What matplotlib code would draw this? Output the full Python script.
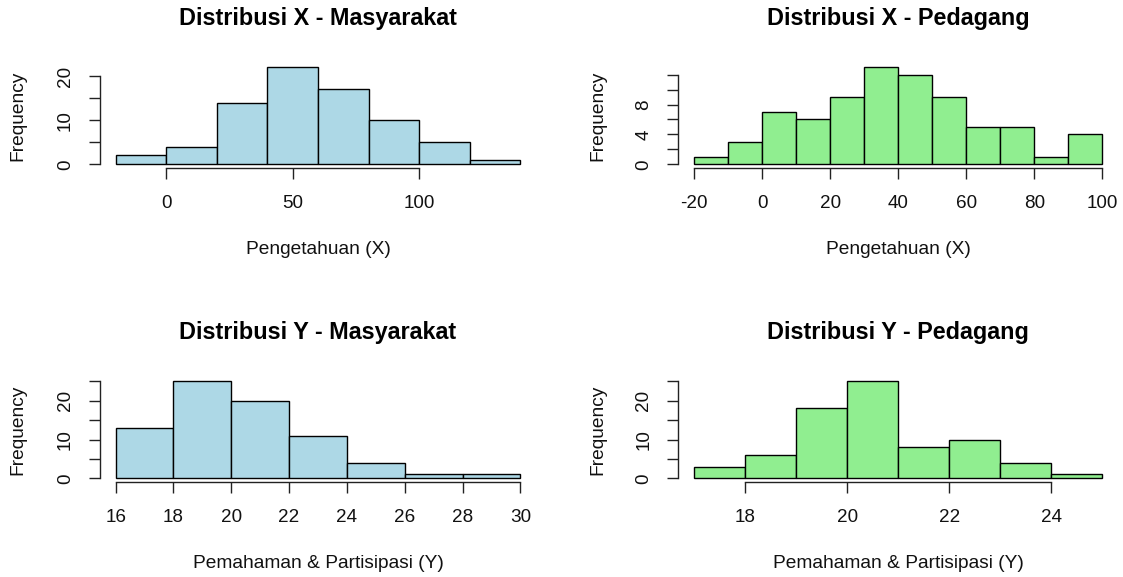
import matplotlib.pyplot as plt

plt.rcParams['font.family'] = ['Liberation Sans', 'DejaVu Sans']

W, H = 1123, 577

# data (bin edges + counts)
x_mas_edges = [-20, 0, 20, 40, 60, 80, 100, 120, 140]
x_mas_counts = [2, 4, 14, 22, 17, 10, 5, 1]

x_ped_edges = [-20, -10, 0, 10, 20, 30, 40, 50, 60, 70, 80, 90, 100]
x_ped_counts = [1, 3, 7, 6, 9, 13, 12, 9, 5, 5, 1, 4]

y_mas_edges = [16, 18, 20, 22, 24, 26, 28, 30]
y_mas_counts = [13, 25, 20, 11, 4, 1, 1]

y_ped_edges = [17, 18, 19, 20, 21, 22, 23, 24, 25]
y_ped_counts = [3, 6, 18, 25, 8, 10, 4, 1]

titles = ["Distribusi X - Masyarakat", "Distribusi X - Pedagang",
          "Distribusi Y - Masyarakat", "Distribusi Y - Pedagang"]
xlabels = ["Pengetahuan (X)", "Pengetahuan (X)",
           "Pemahaman & Partisipasi (Y)", "Pemahaman & Partisipasi (Y)"]
xticks = [[0, 50, 100], [-20, 0, 20, 40, 60, 80, 100],
          [16, 18, 20, 22, 24, 26, 28, 30], [18, 20, 22, 24]]
yticks = [[0, 5, 10, 15, 20], [0, 2, 4, 6, 8, 10, 12],
          [0, 5, 10, 15, 20, 25], [0, 5, 10, 15, 20, 25]]
ylabels_shown = [[0, 10, 20], [0, 4, 8], [0, 10, 20], [0, 10, 20]]
colors = ["#ADD8E6", "#90EE90", "#ADD8E6", "#90EE90"]
edges_all = [x_mas_edges, x_ped_edges, y_mas_edges, y_ped_edges]
counts_all = [x_mas_counts, x_ped_counts, y_mas_counts, y_ped_counts]

# plot regions in pixels (left, top, right, bottom)
boxes = [(99.5, 63.3, 536.5, 168.2), (678, 63.3, 1118.5, 168.2),
         (99.5, 377.4, 536.5, 482.2), (678, 377.4, 1118.5, 482.2)]
title_pos = [(318, 18.5), (898, 18.5), (318, 332.5), (898, 332.5)]
xlab_pos = [(318, 250), (898, 250), (318, 564), (898, 564)]
ylab_pos = [(18, 116), (598, 116), (18, 430), (598, 430)]

fig = plt.figure(figsize=(W / 100, H / 100), dpi=100)

for i in range(4):
    l, t, r, b = boxes[i]
    ax = fig.add_axes([l / W, 1 - b / H, (r - l) / W, (b - t) / H])
    e = edges_all[i]
    c = counts_all[i]
    widths = [e[k + 1] - e[k] for k in range(len(c))]
    ax.bar(e[:-1], c, width=widths, align='edge', color=colors[i],
           edgecolor='black', linewidth=1.0)

    # R style 4% extension
    xr = e[-1] - e[0]
    ax.set_xlim(e[0] - 0.04 * xr, e[-1] + 0.04 * xr)
    ym = max(c)
    ax.set_ylim(-0.04 * ym, ym * 1.04)

    for s in ['top', 'right']:
        ax.spines[s].set_visible(False)
    ax.spines['left'].set_bounds(yticks[i][0], yticks[i][-1])
    ax.spines['bottom'].set_bounds(xticks[i][0], xticks[i][-1])
    for s in ['left', 'bottom']:
        ax.spines[s].set_linewidth(1.0)
        ax.spines[s].set_color('#222222')

    ax.set_xticks(xticks[i])
    ax.set_xticklabels([str(v) for v in xticks[i]])
    ax.set_yticks(yticks[i])
    ax.set_yticklabels([str(v) if v in ylabels_shown[i] else '' for v in yticks[i]],
                       rotation=90, va='center')
    ax.tick_params(axis='both', direction='out', length=8, width=1.0,
                   color='#222222', labelsize=13.6, labelcolor='#111111')
    ax.tick_params(axis='x', pad=11.5)
    ax.tick_params(axis='y', pad=10.5)

    tx, ty = title_pos[i]
    fig.text(tx / W, 1 - ty / H, titles[i], ha='center', va='center',
             fontsize=16.8, fontweight='bold')
    lx, ly = xlab_pos[i]
    fig.text(lx / W, 1 - ly / H, xlabels[i], ha='center', va='center',
             fontsize=13.8, color='#111111')
    yx, yy = ylab_pos[i]
    fig.text(yx / W, 1 - yy / H, "Frequency", ha='center', va='center',
             rotation=90, fontsize=13.8, color='#111111')

plt.savefig("out.png", dpi=100)
